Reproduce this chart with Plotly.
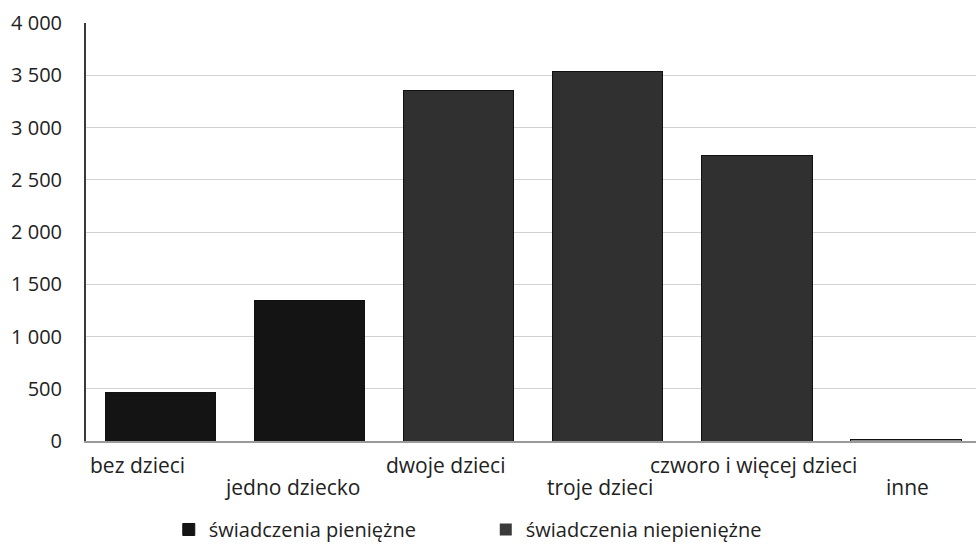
import plotly.graph_objects as go

categories = ["bez dzieci", "jedno dziecko", "dwoje dzieci", "troje dzieci",
              "czworo i więcej dzieci", "inne"]
pieniezne = [460, 1340, 3350, 3540, 2735, 15]
niepieniezne = [0, 0, 0, 0, 0, 0]
y_ticks = [0, 500, 1000, 1500, 2000, 2500, 3000, 3500, 4000]

bar_colors = ["#141414", "#141414", "#303030", "#303030", "#303030", "#8c8c8c"]
FONT = "Open Sans, sans-serif"
TXT = "#222222"

fig = go.Figure()
fig.add_trace(go.Bar(
    x=categories, y=pieniezne, name="świadczenia pieniężne",
    marker=dict(color=bar_colors, line=dict(color="#111111", width=1)),
))
fig.add_trace(go.Bar(
    x=categories, y=niepieniezne, name="świadczenia niepieniężne",
    marker=dict(color="#3a3a3a", line=dict(width=0)),
))

# staggered category labels (two rows), placed on the category axis
for i, cat in enumerate(categories):
    fig.add_annotation(
        x=cat, xref="x", y=0, yref="paper",
        text=cat, showarrow=False,
        xanchor="center", yanchor="middle",
        yshift=-24 if i % 2 == 0 else -46,
        xshift=-23 + 5 * i,
        font=dict(family=FONT, size=21, color=TXT),
    )

fig.update_layout(
    width=976, height=544,
    barmode="stack", bargap=0.26,
    margin=dict(l=86, r=0, t=23, b=103, autoexpand=False),
    paper_bgcolor="white", plot_bgcolor="white",
    separators=", ",
    font=dict(family=FONT, size=20, color=TXT),
    showlegend=True,
    legend=dict(orientation="h", x=0.093, xanchor="left", y=-0.165, yanchor="top",
                font=dict(size=20, color=TXT), traceorder="normal",
                entrywidthmode="pixels", entrywidth=272),
    xaxis=dict(
        categoryorder="array", categoryarray=categories,
        showticklabels=False,
        showline=True, linecolor="#9a9a9a", linewidth=2,
        ticks="", showgrid=False, range=[-0.5, 5.47],
        automargin=False,
    ),
    yaxis=dict(
        range=[0, 4000], tickvals=y_ticks, tickformat=",",
        tickfont=dict(size=20, color=TXT),
        showline=True, linecolor="#3a3a3a", linewidth=2,
        showgrid=True, gridcolor="#d2d2d2", gridwidth=1,
        ticks="", ticklen=0, zeroline=False, automargin=False,
        ticklabelstandoff=18,
    ),
)

fig.write_html(
    "out.html",
    config={"displayModeBar": False},
    post_script="document.body.style.margin='0';document.body.style.overflow='hidden';",
)
